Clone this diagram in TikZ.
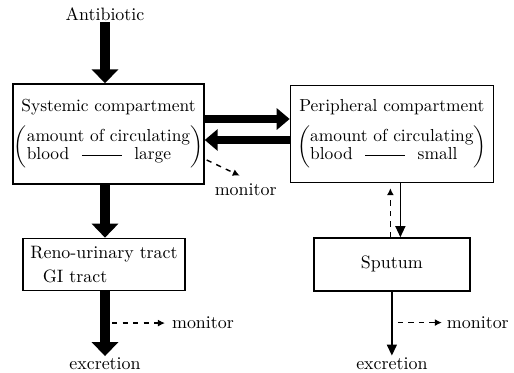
\documentclass[tikz,border=0pt]{standalone}
\usepackage{tikz}
\usetikzlibrary{positioning, arrows.meta}

\newcommand{\bracketed}[2]{$\left(\begin{tabular}{@{}l@{}}#1\\#2\end{tabular}\right)$}
\newcommand{\longdash}{\hspace{0.25cm}\rule[0.55ex]{0.8cm}{0.5pt}\hspace{0.25cm}}

\begin{document}
\begin{tikzpicture}[
      x=0.02cm, y=-0.02cm,
      box/.style={draw, thick, align=center, inner sep=0.5pt, font=\fontsize{9.9}{12}\selectfont},
      lbl/.style={inner sep=1pt, font=\fontsize{10.2}{12}\selectfont},
      bigarr/.style={line width=5.5pt, -{Triangle[length=0.28cm, width=0.52cm]}},
      midarr/.style={line width=4.2pt, -{Triangle[length=0.26cm, width=0.42cm]}},
      thinarr/.style={thick, -{Triangle[length=0.22cm, width=0.2cm]}},
      monarr/.style={dashed, thick, -{Latex[length=1.4mm, width=1.4mm]}}
    ]
    \useasboundingbox (0,0) rectangle (514,372);
    \renewcommand{\arraystretch}{0.85}
    % Nodes
    \node[box, minimum width=3.78cm, minimum height=2cm] (sys) at (108.5,134)
      {Systemic compartment\\[5pt]\bracketed{amount of circulating}{blood\longdash large}};
    \node[lbl, above=1.22cm of sys, xshift=-0.07cm] (ab) {Antibiotic};
    \node[box, minimum width=4.06cm, minimum height=1.94cm, right=1.7cm of sys] (per)
      {Peripheral compartment\\[5pt]\bracketed{amount of circulating}{blood\longdash small}};

    \node[box, align=left, minimum width=3.24cm, minimum height=1.04cm, below=1.06cm of sys, xshift=-0.09cm, font=\fontsize{10.2}{12}\selectfont] (reno)
      {Reno-urinary tract\\[2pt]\hspace*{0.25cm}GI tract};
    \node[box, minimum width=3.12cm, minimum height=1.06cm, below=1.08cm of per, font=\fontsize{10.2}{12}\selectfont] (sput) {Sputum};

    \node[lbl, below=1.3cm of reno, xshift=0.02cm] (exc1) {excretion};
    \node[lbl, below=1.28cm of sput] (exc2) {excretion};

    \node[lbl, anchor=north west] (mon1) at ([xshift=0.16cm, yshift=0.06cm]sys.south east) {monitor};
    \coordinate (tap1) at ([yshift=-0.64cm]reno.south -| exc1);
    \node[lbl, right=1.3cm of tap1] (mon2) {monitor};
    \coordinate (tap2) at ([yshift=-0.62cm]sput.south);
    \node[lbl, right=1.06cm of tap2] (mon3) {monitor};

    % Edges
    \draw[bigarr] (ab) -- (ab |- sys.north);
    \draw[bigarr] (ab |- sys.south) -- (ab |- reno.north);
    \draw[bigarr] (exc1 |- reno.south) -- (exc1.north);
    \draw[midarr] ([yshift=0.3cm]sys.east) -- ([yshift=0.3cm]sys.east -| per.west);
    \draw[midarr] ([yshift=-0.12cm]sys.east -| per.west) -- ([yshift=-0.12cm]sys.east);
    \draw[thinarr] ([xshift=0.17cm]per.south) -- ([xshift=0.17cm]per.south |- sput.north);
    \draw[monarr] ([xshift=-0.03cm]per.south |- sput.north) -- ([xshift=-0.03cm, yshift=-0.1cm]per.south);
    \draw[thinarr] (sput.south) -- (exc2.north);
    \draw[monarr] ([xshift=0.04cm, yshift=-0.52cm]sys.east) -- ([xshift=-0.12cm, yshift=0.12cm]mon1.north);
    \draw[monarr, shorten >=0.1cm] ([xshift=0.14cm]tap1) -- (mon2.west);
    \draw[monarr, shorten >=0.06cm] ([xshift=0.12cm]tap2) -- (mon3.west);
  \end{tikzpicture}
\end{document}
